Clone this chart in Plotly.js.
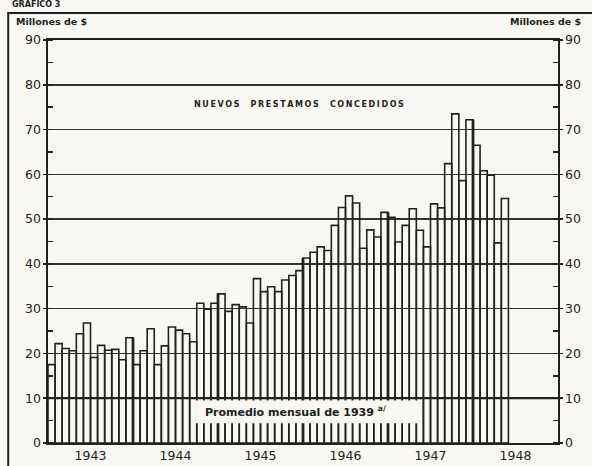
<!DOCTYPE html>
<html>
<head>
<meta charset="utf-8">
<script src="https://cdn.plot.ly/plotly-3.0.1.min.js"></script>
<style>
  html, body { margin: 0; padding: 0; background: #f9f8f4; overflow: hidden; }
  #chart { width: 592px; height: 466px; }
</style>
</head>
<body>
<div id="chart"></div>
<script>
// Nuevos préstamos concedidos, millones de $, mensual
const years = ['1943', '1944', '1945', '1946', '1947', '1948'];
const p1943 = [17.5, 22.2, 21.1, 20.6, 24.4, 26.8, 19.1, 21.8, 20.7, 20.9, 18.6, 23.5];
const p1944 = [17.5, 20.6, 25.5, 17.5, 21.7, 25.9, 25.2, 24.4, 22.6, 31.2, 29.9, 31.2];
const p1945 = [33.3, 29.4, 30.9, 30.4, 26.8, 36.7, 33.8, 34.9, 33.8, 36.4, 37.4, 38.5];
const p1946 = [41.3, 42.6, 43.8, 43.0, 48.6, 52.6, 55.2, 53.6, 43.5, 47.6, 46.0, 51.5];
const p1947 = [50.4, 44.9, 48.6, 52.3, 47.5, 43.8, 53.4, 52.5, 62.4, 73.5, 58.6, 72.2];
const p1948 = [66.5, 60.8, 59.8, 44.7, 54.6];
const promedio1939 = 10;
const yTicks = [0, 10, 20, 30, 40, 50, 60, 70, 80, 90];
const chartTitle = 'NUEVOS PRESTAMOS CONCEDIDOS';

const values = [].concat(p1943, p1944, p1945, p1946, p1947, p1948);
const xs = values.map((_, i) => i);
const yearCenters = years.map((_, k) => k * 12 + 5.5);

const ink = '#222';
const bg = '#f9f8f4';
const tickFont = { family: 'DejaVu Sans', size: 12.5, color: ink };

// letter-spaced title
const spacedTitle = chartTitle.split(' ')
  .map(w => w.split('').join('\u2009'))
  .join('&nbsp;&nbsp;&nbsp;&nbsp;');

const traces = [
  {
    type: 'bar', x: xs, y: values, width: 1,
    marker: { color: 'rgba(0,0,0,0)', line: { color: ink, width: 1.6 } },
    hoverinfo: 'skip', showlegend: false
  },
  {
    type: 'scatter', x: xs, y: values, yaxis: 'y2', mode: 'markers',
    marker: { opacity: 0, size: 1 }, hoverinfo: 'skip', showlegend: false
  }
];

const shapes = [];
// thicker year-boundary edges of the bars
for (let k = 1; k < years.length; k++) {
  const i = k * 12;
  const h = Math.max(values[i - 1], values[i] !== undefined ? values[i] : 0);
  shapes.push({ type: 'line', xref: 'x', yref: 'y', x0: i - 0.5, x1: i - 0.5, y0: 0, y1: h,
    line: { color: ink, width: 2.8 }, layer: 'above' });
}
// label box over the bars
shapes.push({ type: 'rect', xref: 'x', yref: 'y', x0: 20.3, x1: 51.8, y0: 4.4, y1: 9.5,
  fillcolor: bg, line: { width: 0 }, layer: 'above' });
// 1939 monthly average line
shapes.push({ type: 'line', xref: 'paper', yref: 'y', x0: 0, x1: 1, y0: promedio1939, y1: promedio1939,
  line: { color: ink, width: 2.2 }, layer: 'above' });
// outer frame
shapes.push({ type: 'rect', xref: 'paper', yref: 'paper', x0: -0.078, x1: 1.1, y0: -0.1, y1: 1.067,
  line: { color: ink, width: 2 }, fillcolor: 'rgba(0,0,0,0)' });

const annotations = [
  { xref: 'paper', yref: 'paper', x: -0.075, y: 1.087, xanchor: 'left', yanchor: 'middle',
    text: 'GRAFICO 3', showarrow: false, font: { family: 'DejaVu Sans', size: 8, color: ink, weight: 'bold' } },
  { xref: 'paper', yref: 'paper', x: -0.067, y: 1.045, xanchor: 'left', yanchor: 'middle',
    text: 'Millones de $', showarrow: false, font: { family: 'DejaVu Sans', size: 9.5, color: ink, weight: 'bold' } },
  { xref: 'paper', yref: 'paper', x: 1.049, y: 1.045, xanchor: 'right', yanchor: 'middle',
    text: 'Millones de $', showarrow: false, font: { family: 'DejaVu Sans', size: 9.5, color: ink, weight: 'bold' } },
  { xref: 'x', yref: 'y', x: 35, y: 75.7, xanchor: 'center', yanchor: 'middle',
    text: spacedTitle, showarrow: false,
    font: { family: 'DejaVu Sans', size: 8, color: ink, weight: 'bold' } },
  { xref: 'x', yref: 'y', x: 34.5, y: 7.1, xanchor: 'center', yanchor: 'middle',
    text: 'Promedio mensual de 1939 <sup>a/</sup>', showarrow: false,
    font: { family: 'DejaVu Sans', size: 11, color: ink, weight: 'bold' } }
];

const yCommon = {
  range: [0, 90], tickvals: yTicks, ticktext: yTicks.map(String),
  ticks: 'outside', ticklen: 3, tickcolor: ink, tickwidth: 1.5,
  minor: { dtick: 5, tick0: 5, ticks: 'inside', ticklen: 5, tickcolor: ink, tickwidth: 1.5 },
  tickfont: tickFont, fixedrange: true, zeroline: false
};

const layout = {
  width: 592, height: 466,
  margin: { l: 48, r: 34, t: 40, b: 23 },
  paper_bgcolor: bg, plot_bgcolor: bg,
  bargap: 0, showlegend: false,
  xaxis: {
    range: [-0.5, 71.5], tickvals: yearCenters, ticktext: years, ticks: '',
    showgrid: false, zeroline: false, showline: true, mirror: true,
    linecolor: ink, linewidth: 1.6, tickfont: tickFont, fixedrange: true
  },
  yaxis: Object.assign({}, yCommon, {
    side: 'left', showgrid: true, gridcolor: '#333', gridwidth: 1.5,
    showline: true, linecolor: ink, linewidth: 1.6
  }),
  yaxis2: Object.assign({}, yCommon, {
    overlaying: 'y', side: 'right', showgrid: false,
    showline: true, linecolor: ink, linewidth: 1.6
  }),
  shapes: shapes,
  annotations: annotations
};

Plotly.newPlot('chart', traces, layout, { staticPlot: true, displayModeBar: false });
</script>
</body>
</html>
